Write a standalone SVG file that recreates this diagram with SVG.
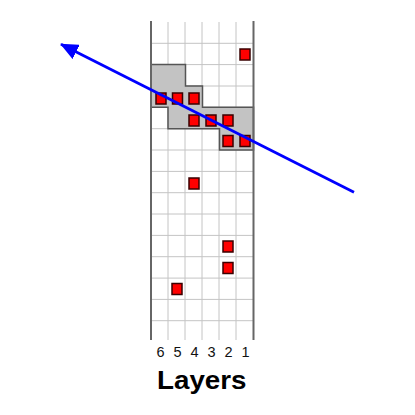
<svg xmlns="http://www.w3.org/2000/svg" width="415" height="415" viewBox="0 0 415 415">
<defs>
<style>
.grid{stroke:#c4c4c4;stroke-width:1;fill:none}
.border{stroke:#666;stroke-width:2;fill:none}
.hit{fill:#ff0000;stroke:#3a0000;stroke-width:1.5}
.num{font-family:"Liberation Sans",Arial,sans-serif;font-size:14.5px;fill:#111;text-anchor:middle}
.title{font-family:"Liberation Sans",Arial,sans-serif;font-size:25px;font-weight:bold;fill:#000}
</style>
<marker id="arr" markerWidth="18" markerHeight="16" refX="17" refY="8" orient="auto" markerUnits="userSpaceOnUse">
<path d="M0,0 L18,8 L0,16 Z" fill="#0000ff"/>
</marker>
</defs>
<rect width="415" height="415" fill="#fff"/>
<g id="grid">
<path class="grid" d="M168,22V340M185,22V340M202,22V340M219,22V340M236,22V340"/>
<path class="grid" d="M151,43.3H253M151,64.6H253M151,86H253M151,107.3H253M151,128.7H253M151,150H253M151,171.4H253M151,192.7H253M151,214H253M151,235.4H253M151,256.7H253M151,278.1H253M151,299.4H253M151,320.7H253"/>
</g>
<g id="cluster">
<path d="M151,64.6H185.5V86H202.5V107.3H253.5V150H219.5V128.7H168V107.3H151Z" fill="#c3c3c3" stroke="#555" stroke-width="1.5"/>
</g>
<g id="borders">
<path class="border" d="M151,21V340M253.5,21V340"/>
</g>
<g id="hits">
<rect class="hit" x="240" y="49" width="10" height="11"/>
<rect class="hit" x="156" y="93" width="10" height="11"/>
<rect class="hit" x="172.5" y="93" width="10" height="11"/>
<rect class="hit" x="189" y="93" width="10" height="11"/>
<rect class="hit" x="189" y="115" width="10" height="11"/>
<rect class="hit" x="206" y="115" width="10" height="11"/>
<rect class="hit" x="223" y="115" width="10" height="11"/>
<rect class="hit" x="223" y="135.5" width="10" height="11"/>
<rect class="hit" x="240" y="135.5" width="10" height="11"/>
<rect class="hit" x="189" y="178" width="10" height="11"/>
<rect class="hit" x="223" y="241" width="10" height="11"/>
<rect class="hit" x="223" y="262.5" width="10" height="11"/>
<rect class="hit" x="172" y="283.5" width="10" height="11"/>
</g>
<g id="connectors">
<line x1="354" y1="192.3" x2="61" y2="44.3" stroke="#0000ff" stroke-width="2.8" marker-end="url(#arr)"/>
</g>
<g id="labels">
<text class="num" x="160.5" y="357">6</text>
<text class="num" x="177.5" y="357">5</text>
<text class="num" x="194.5" y="357">4</text>
<text class="num" x="211.5" y="357">3</text>
<text class="num" x="228.5" y="357">2</text>
<text class="num" x="245.5" y="357">1</text>
<text class="title" x="157" y="388.5" textLength="89.5" lengthAdjust="spacingAndGlyphs">Layers</text>
</g>
</svg>
